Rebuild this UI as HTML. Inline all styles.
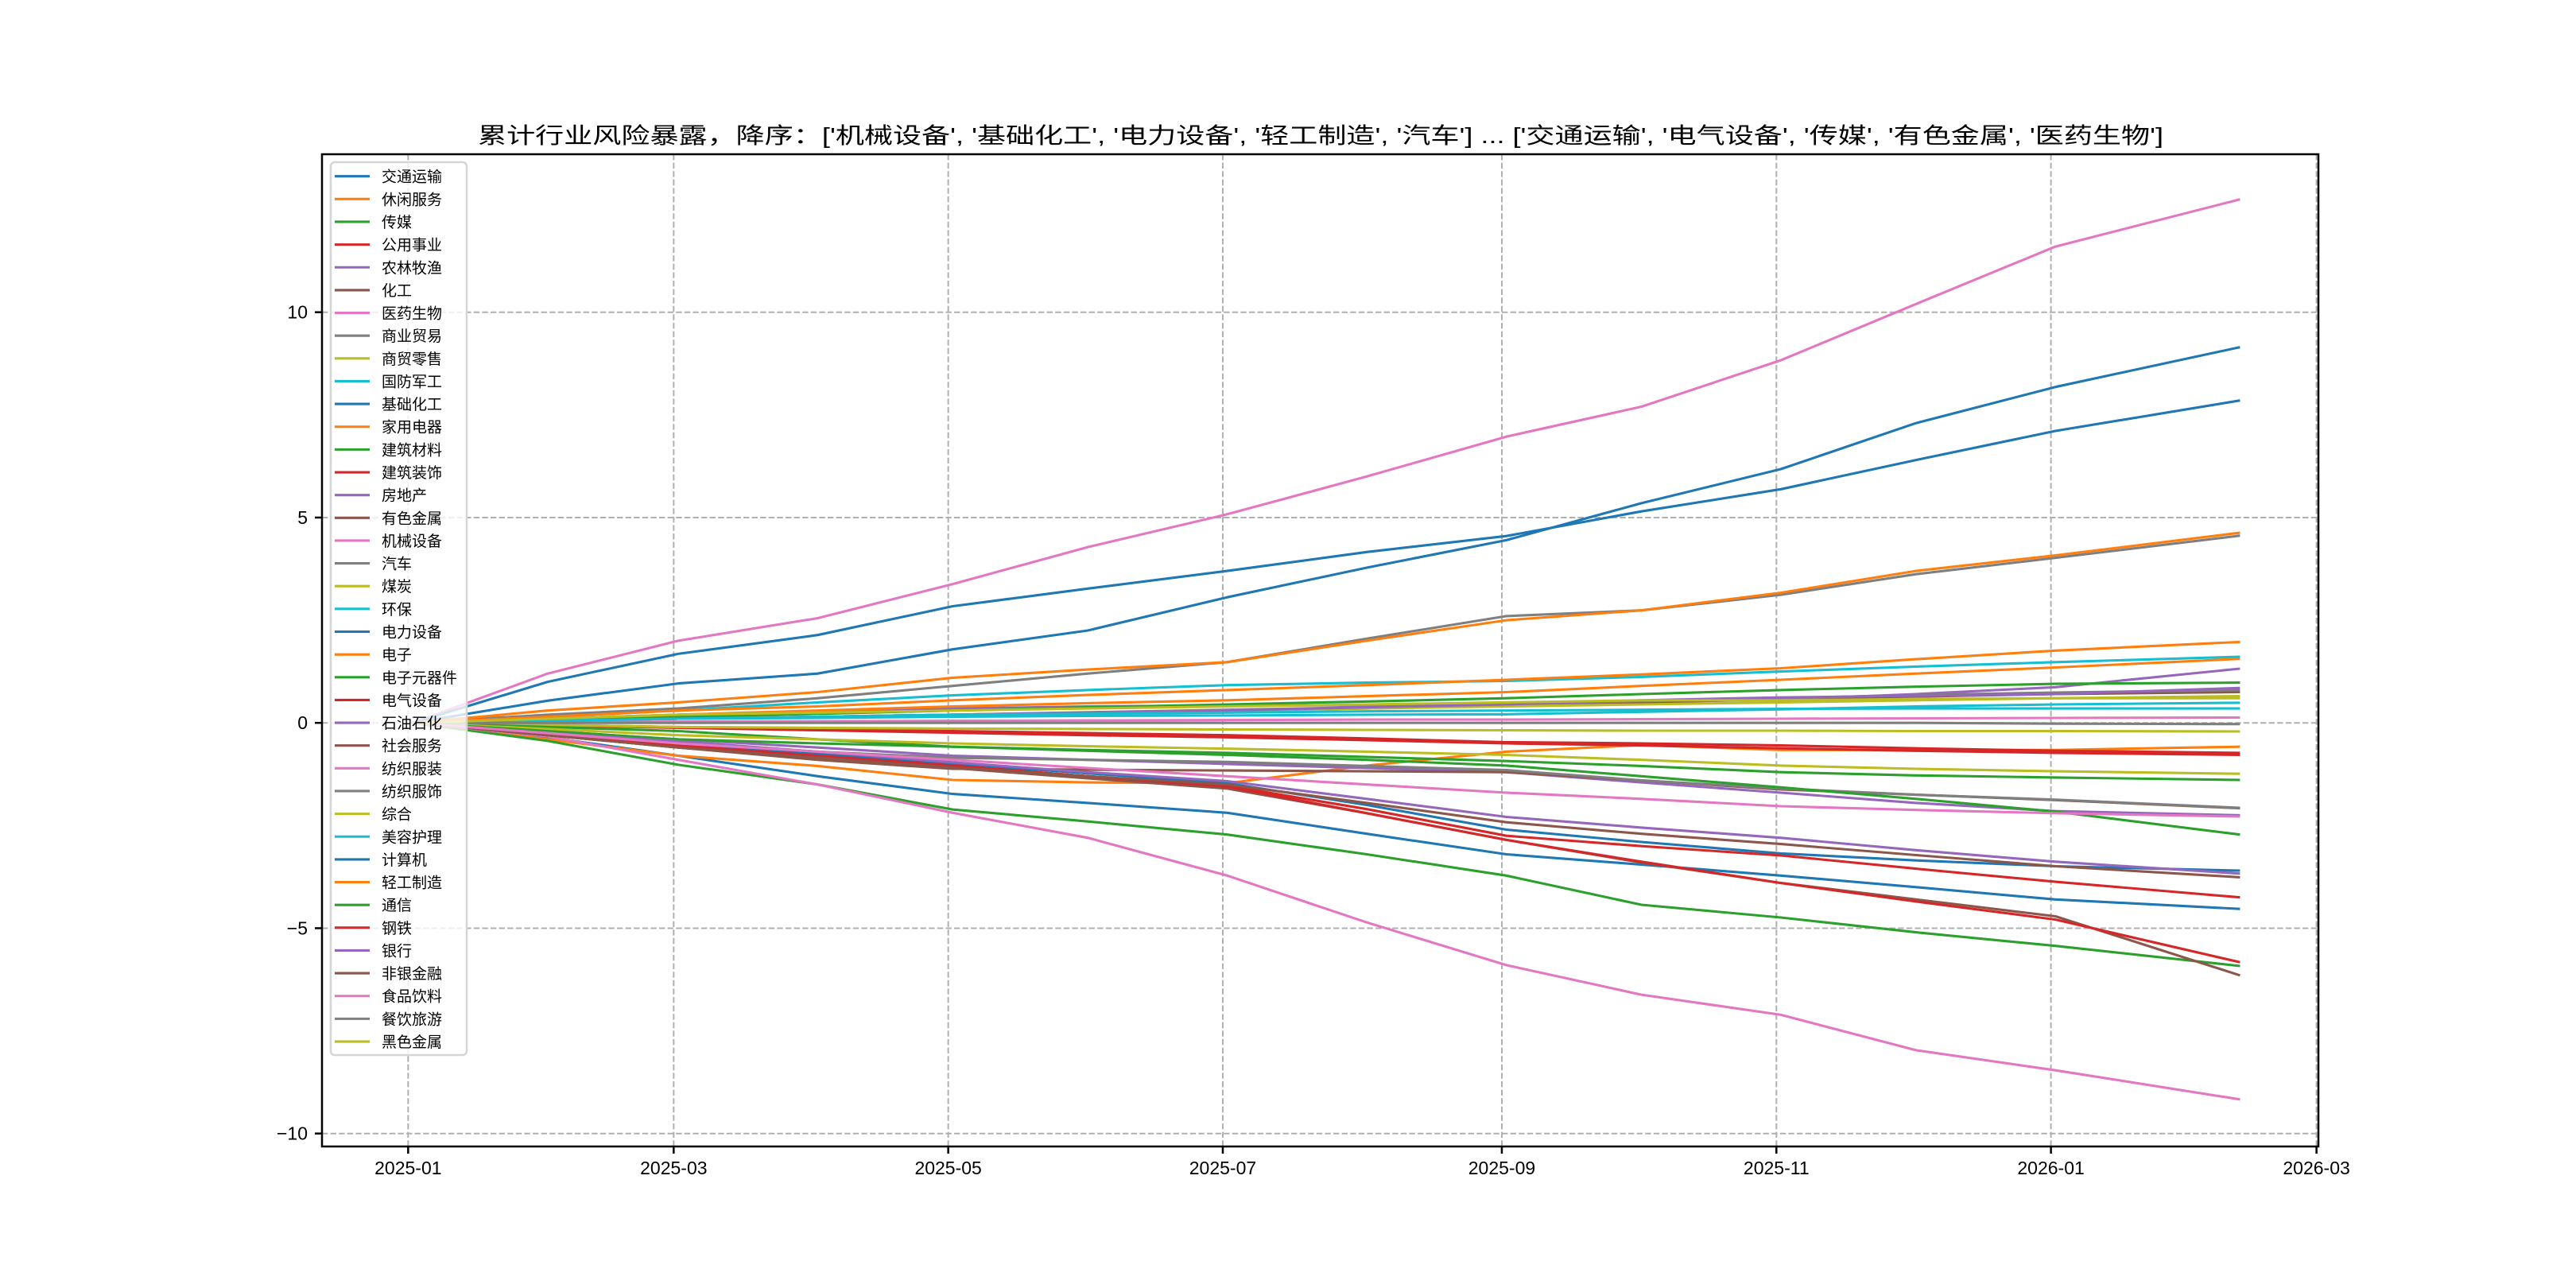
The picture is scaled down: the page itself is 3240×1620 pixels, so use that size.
<!DOCTYPE html>
<html><head><meta charset="utf-8"><style>
html,body{margin:0;padding:0;background:#fff;}
svg{display:block;}
text{font-family:"Liberation Sans","Noto Sans CJK SC",sans-serif;fill:#000;}
</style></head><body>
<svg id="chart" width="3240" height="1620" viewBox="0 0 3240 1620" xmlns="http://www.w3.org/2000/svg">
<rect x="0" y="0" width="3240" height="1620" fill="#fff"/>
<text x="1661" y="180" font-size="28" text-anchor="middle" textLength="2120" lengthAdjust="spacingAndGlyphs">累计行业风险暴露，降序：['机械设备', '基础化工', '电力设备', '轻工制造', '汽车'] ... ['交通运输', '电气设备', '传媒', '有色金属', '医药生物']</text>
<g id="grid"></g>
<g id="series"></g>
<g id="axes"></g>
<g id="legend"></g>
</svg>
<script>
// ---- data ----
const dayOffsets = [0,30,59,90,120,150,181,212,243,273,304,334,365,406]; // days since 2025-01-02
const seriesNames = ['交通运输','休闲服务','传媒','公用事业','农林牧渔','化工','医药生物','商业贸易','商贸零售','国防军工','基础化工','家用电器','建筑材料','建筑装饰','房地产','有色金属','机械设备','汽车','煤炭','环保','电力设备','电子','电子元器件','电气设备','石油石化','社会服务','纺织服装','纺织服饰','综合','美容护理','计算机','轻工制造','通信','钢铁','银行','非银金融','食品饮料','餐饮旅游','黑色金属'];
const s交通运输 = [0,-0.35,-0.8,-1.3,-1.73,-1.95,-2.19,-2.7,-3.2,-3.45,-3.72,-4.0,-4.3,-4.53];
const s休闲服务 = [0,-0.4,-0.8,-1.05,-1.39,-1.45,-1.47,-1.04,-0.7,-0.54,-0.66,-0.66,-0.66,-0.58];
const s传媒 = [0,-0.44,-1.02,-1.5,-2.11,-2.4,-2.72,-3.2,-3.72,-4.43,-4.74,-5.1,-5.43,-5.92];
const s公用事业 = [0,-0.05,-0.1,-0.15,-0.2,-0.25,-0.3,-0.38,-0.47,-0.5,-0.55,-0.62,-0.68,-0.73];
const s农林牧渔 = [0,0.1,0.2,0.28,0.35,0.4,0.42,0.43,0.45,0.5,0.57,0.7,0.87,1.32];
const s化工 = [0,0.05,0.1,0.15,0.2,0.25,0.3,0.35,0.42,0.5,0.58,0.64,0.7,0.75];
const s医药生物 = [0,-0.33,-0.9,-1.5,-2.19,-2.8,-3.72,-4.86,-5.9,-6.62,-7.11,-7.97,-8.46,-9.17];
const s商业贸易 = [0,0.05,0.1,0.15,0.2,0.26,0.32,0.38,0.45,0.53,0.6,0.68,0.74,0.8];
const s商贸零售 = [0,0.05,0.1,0.15,0.2,0.25,0.3,0.35,0.4,0.45,0.5,0.55,0.6,0.65];
const s国防军工 = [0,0.15,0.3,0.5,0.67,0.8,0.92,0.98,1.02,1.12,1.25,1.37,1.48,1.61];
const s基础化工 = [0,0.54,0.96,1.2,1.79,2.25,3.06,3.78,4.45,5.35,6.18,7.3,8.18,9.15];
const s家用电器 = [0,0.1,0.2,0.3,0.4,0.48,0.55,0.65,0.75,0.9,1.05,1.2,1.35,1.56];
const s建筑材料 = [0,0.08,0.15,0.22,0.3,0.38,0.45,0.52,0.6,0.7,0.8,0.88,0.95,0.98];
const s建筑装饰 = [0,-0.06,-0.12,-0.18,-0.24,-0.3,-0.35,-0.42,-0.5,-0.55,-0.62,-0.68,-0.73,-0.78];
const s房地产 = [0,0.05,0.1,0.15,0.2,0.25,0.3,0.38,0.45,0.55,0.62,0.66,0.7,0.85];
const s有色金属 = [0,-0.3,-0.6,-0.85,-1.1,-1.35,-1.6,-2.2,-2.85,-3.4,-3.9,-4.3,-4.71,-6.15];
const s机械设备 = [0,1.2,2.0,2.55,3.38,4.28,5.08,6.0,6.97,7.7,8.83,10.2,11.6,12.75];
const s汽车 = [0,0.2,0.35,0.6,0.9,1.2,1.48,2.05,2.6,2.74,3.12,3.62,4.02,4.56];
const s煤炭 = [0,-0.05,-0.1,-0.12,-0.14,-0.15,-0.16,-0.17,-0.18,-0.19,-0.19,-0.2,-0.2,-0.21];
const s环保 = [0,0.05,0.1,0.12,0.15,0.17,0.18,0.2,0.21,0.27,0.33,0.4,0.45,0.49];
const s电力设备 = [0,1.0,1.68,2.14,2.84,3.27,3.7,4.16,4.55,5.15,5.69,6.4,7.11,7.85];
const s电子 = [0,0.15,0.3,0.4,0.55,0.68,0.8,0.92,1.05,1.18,1.33,1.55,1.76,1.97];
const s电子元器件 = [0,-0.1,-0.2,-0.4,-0.58,-0.66,-0.73,-0.83,-0.93,-1.05,-1.2,-1.28,-1.33,-1.39];
const s电气设备 = [0,-0.3,-0.55,-0.8,-1.05,-1.3,-1.55,-2.2,-2.85,-3.38,-3.9,-4.35,-4.79,-5.83];
const s石油石化 = [0,-0.2,-0.4,-0.6,-0.8,-0.9,-1.0,-1.1,-1.2,-1.45,-1.7,-1.95,-2.15,-2.25];
const s社会服务 = [0,-0.3,-0.6,-0.9,-1.12,-1.14,-1.16,-1.18,-1.2,-1.4,-1.62,-1.75,-1.88,-2.08];
const s纺织服装 = [0,0.02,0.03,0.04,0.05,0.06,0.07,0.08,0.08,0.09,0.1,0.11,0.12,0.13];
const s纺织服饰 = [0,-0.25,-0.5,-0.7,-0.85,-0.9,-0.95,-1.05,-1.15,-1.4,-1.6,-1.75,-1.87,-2.07];
const s综合 = [0,-0.15,-0.3,-0.4,-0.5,-0.57,-0.63,-0.7,-0.78,-0.9,-1.04,-1.12,-1.18,-1.24];
const s美容护理 = [0,0.05,0.1,0.15,0.2,0.22,0.25,0.28,0.3,0.32,0.34,0.35,0.35,0.35];
const s计算机 = [0,-0.25,-0.5,-0.75,-0.99,-1.23,-1.47,-2.0,-2.6,-2.9,-3.18,-3.35,-3.49,-3.6];
const s轻工制造 = [0,0.3,0.5,0.75,1.1,1.3,1.48,2.0,2.5,2.74,3.17,3.7,4.08,4.63];
const s通信 = [0,-0.2,-0.4,-0.5,-0.58,-0.68,-0.78,-0.9,-1.04,-1.3,-1.57,-1.85,-2.16,-2.72];
const s钢铁 = [0,-0.3,-0.55,-0.8,-1.04,-1.3,-1.53,-2.1,-2.75,-3.0,-3.23,-3.55,-3.87,-4.25];
const s银行 = [0,-0.25,-0.45,-0.7,-0.96,-1.2,-1.42,-1.85,-2.29,-2.55,-2.8,-3.1,-3.38,-3.67];
const s非银金融 = [0,-0.3,-0.6,-0.85,-1.09,-1.3,-1.5,-1.95,-2.42,-2.7,-2.95,-3.22,-3.49,-3.76];
const s食品饮料 = [0,-0.25,-0.5,-0.7,-0.9,-1.1,-1.3,-1.5,-1.7,-1.85,-2.03,-2.12,-2.2,-2.28];
const s餐饮旅游 = [0,0,0,0,0,0,0,0,0,0,0,0,-0.02,-0.03];
const s黑色金属 = [0,0.1,0.2,0.25,0.3,0.35,0.4,0.45,0.5,0.55,0.55,0.58,0.6,0.6];
const seriesValues = [s交通运输,s休闲服务,s传媒,s公用事业,s农林牧渔,s化工,s医药生物,s商业贸易,s商贸零售,s国防军工,s基础化工,s家用电器,s建筑材料,s建筑装饰,s房地产,s有色金属,s机械设备,s汽车,s煤炭,s环保,s电力设备,s电子,s电子元器件,s电气设备,s石油石化,s社会服务,s纺织服装,s纺织服饰,s综合,s美容护理,s计算机,s轻工制造,s通信,s钢铁,s银行,s非银金融,s食品饮料,s餐饮旅游,s黑色金属];
const yTicks = [-10,-5,0,5,10];
const xTickLabels = ['2025-01','2025-03','2025-05','2025-07','2025-09','2025-11','2026-01','2026-03'];
const xTickDays = [-1,58,119,180,242,303,364,423]; // days since 2025-01-02

// ---- layout ----
const L=405,R=2916,T=194,B=1442;
const colors=['#1f77b4','#ff7f0e','#2ca02c','#d62728','#9467bd','#8c564b','#e377c2','#7f7f7f','#bcbd22','#17becf'];
const xS=d=>519+d*5.661;
const yS=v=>909.2-v*51.65;
const NS='http://www.w3.org/2000/svg';
function mk(tag,attrs,parent){const e=document.createElementNS(NS,tag);for(const k in attrs)e.setAttribute(k,attrs[k]);parent.appendChild(e);return e;}

const grid=document.getElementById('grid');
xTickDays.forEach((d,i)=>{
  const l=mk('line',{x1:xS(d),x2:xS(d),y1:T,y2:B,stroke:'#b0b0b0','stroke-width':2,'stroke-dasharray':'7.4,3.2'},grid);
  
  
});
yTicks.forEach(v=>{
  const l=mk('line',{x1:L,x2:R,y1:yS(v),y2:yS(v),stroke:'#b0b0b0','stroke-width':2,'stroke-dasharray':'7.4,3.2'},grid);
  
  
});

const sg=document.getElementById('series');
seriesValues.forEach((vals,i)=>{
  const pts=vals.map((v,j)=>xS(dayOffsets[j]).toFixed(1)+','+yS(v).toFixed(1)).join(' ');
  const p=mk('polyline',{points:pts,fill:'none',stroke:colors[i%10],'stroke-width':3.1,'stroke-linejoin':'round'},sg);
  
  
});

const ax=document.getElementById('axes');
const frame=mk('rect',{x:L,y:T,width:R-L,height:B-T,fill:'none',stroke:'#000','stroke-width':2.5},ax);


yTicks.forEach(v=>{
  const t=mk('line',{x1:L-9,x2:L,y1:yS(v),y2:yS(v),stroke:'#000','stroke-width':2.5},ax);
  
  
  const tx=mk('text',{x:L-18,y:yS(v)+8,'font-size':23,'text-anchor':'end'},ax);
  tx.textContent=String(v).replace('-','−');
  
  
});
xTickDays.forEach((d,i)=>{
  const t=mk('line',{x1:xS(d),x2:xS(d),y1:B,y2:B+9,stroke:'#000','stroke-width':2.5},ax);
  
  
  const tx=mk('text',{x:xS(d),y:B+35,'font-size':23,'text-anchor':'middle'},ax);
  tx.textContent=xTickLabels[i];
  
  
});

const lg=document.getElementById('legend');
const box=mk('rect',{x:416,y:204,width:171,height:1123,rx:5,fill:'#fff','fill-opacity':0.8,stroke:'#d5d5d5','stroke-width':2.5},lg);


seriesNames.forEach((n,i)=>{
  const y=221.7+i*28.64;
  const g=mk('g',{},lg);
  
  
  mk('line',{x1:421,x2:465,y1:y,y2:y,stroke:colors[i%10],'stroke-width':3.1},g);
  const t=mk('text',{x:480,y:y+7,'font-size':19},g);
  t.textContent=n;
});
</script>
</body></html>
